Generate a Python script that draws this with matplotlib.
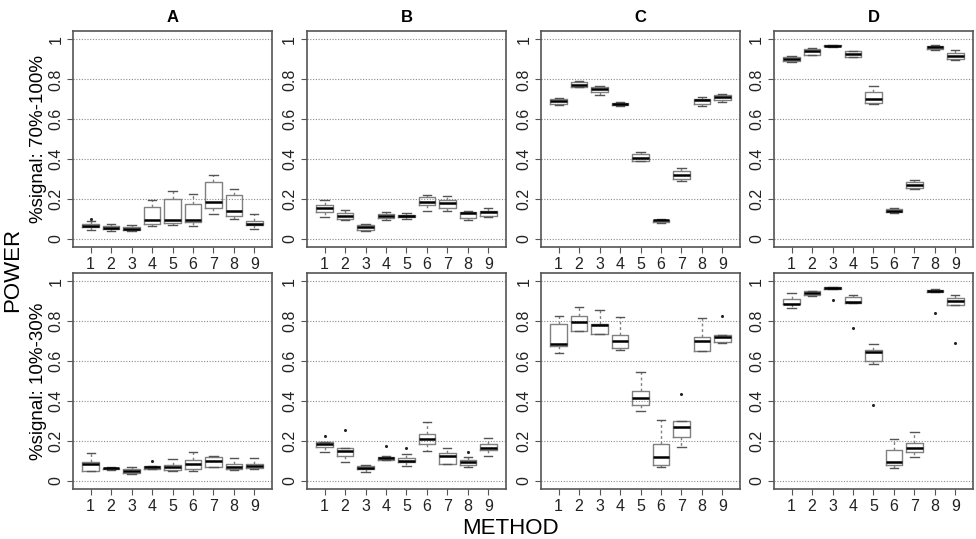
import matplotlib.pyplot as plt
from matplotlib.ticker import FixedLocator

plt.rcParams['font.family'] = ['Liberation Sans', 'DejaVu Sans']

methods = [1, 2, 3, 4, 5, 6, 7, 8, 9]
panel_titles = ['A', 'B', 'C', 'D']
row_labels = ['%signal: 70%-100%', '%signal: 10%-30%']
y_ticks = [0, 0.2, 0.4, 0.6, 0.8, 1]
y_ticklabels = ['0', '0.2', '0.4', '0.6', '0.8', '1']

# each method: (low whisker, Q1, median, Q3, high whisker)
high_A = [(0.045, 0.060, 0.065, 0.075, 0.090), (0.040, 0.050, 0.057, 0.065, 0.075),
          (0.040, 0.045, 0.052, 0.060, 0.070), (0.067, 0.075, 0.095, 0.160, 0.197),
          (0.072, 0.082, 0.097, 0.200, 0.242), (0.063, 0.083, 0.097, 0.175, 0.226),
          (0.125, 0.155, 0.184, 0.286, 0.323), (0.099, 0.114, 0.142, 0.222, 0.250),
          (0.050, 0.069, 0.077, 0.089, 0.125)]
high_B = [(0.109, 0.134, 0.155, 0.172, 0.197), (0.097, 0.099, 0.117, 0.132, 0.145),
          (0.038, 0.045, 0.059, 0.070, 0.075), (0.095, 0.105, 0.115, 0.125, 0.134),
          (0.100, 0.109, 0.117, 0.122, 0.129), (0.142, 0.172, 0.187, 0.209, 0.221),
          (0.139, 0.155, 0.179, 0.197, 0.217), (0.095, 0.105, 0.130, 0.135, 0.139),
          (0.112, 0.117, 0.134, 0.142, 0.155)]
high_C = [(0.672, 0.677, 0.691, 0.699, 0.707), (0.761, 0.764, 0.773, 0.786, 0.793),
          (0.724, 0.739, 0.754, 0.761, 0.766), (0.664, 0.669, 0.677, 0.681, 0.684),
          (0.393, 0.393, 0.406, 0.426, 0.435), (0.080, 0.087, 0.094, 0.097, 0.099),
          (0.293, 0.301, 0.323, 0.343, 0.356), (0.664, 0.677, 0.694, 0.702, 0.711),
          (0.684, 0.694, 0.712, 0.724, 0.727)]
high_D = [(0.888, 0.891, 0.901, 0.911, 0.915), (0.920, 0.923, 0.940, 0.953, 0.958),
          (0.963, 0.965, 0.968, 0.972, 0.973), (0.911, 0.911, 0.926, 0.940, 0.940),
          (0.674, 0.679, 0.701, 0.739, 0.766), (0.132, 0.135, 0.142, 0.151, 0.157),
          (0.251, 0.256, 0.273, 0.286, 0.296), (0.945, 0.950, 0.960, 0.968, 0.973),
          (0.898, 0.900, 0.916, 0.933, 0.945)]
low_A = [(0.048, 0.052, 0.084, 0.097, 0.142), (0.057, 0.059, 0.064, 0.067, 0.072),
         (0.035, 0.040, 0.050, 0.060, 0.072), (0.062, 0.062, 0.069, 0.075, 0.075),
         (0.050, 0.055, 0.072, 0.079, 0.110), (0.052, 0.059, 0.084, 0.105, 0.144),
         (0.069, 0.072, 0.100, 0.122, 0.124), (0.055, 0.060, 0.072, 0.087, 0.114),
         (0.060, 0.064, 0.075, 0.085, 0.114)]
low_B = [(0.147, 0.172, 0.184, 0.194, 0.194), (0.097, 0.127, 0.150, 0.167, 0.167),
         (0.043, 0.059, 0.067, 0.075, 0.080), (0.107, 0.107, 0.115, 0.122, 0.125),
         (0.075, 0.094, 0.100, 0.117, 0.134), (0.152, 0.184, 0.211, 0.234, 0.298),
         (0.085, 0.085, 0.127, 0.139, 0.164), (0.070, 0.080, 0.094, 0.104, 0.119),
         (0.127, 0.154, 0.167, 0.184, 0.214)]
low_C = [(0.639, 0.674, 0.686, 0.786, 0.829), (0.753, 0.753, 0.794, 0.828, 0.870),
         (0.736, 0.736, 0.783, 0.786, 0.855), (0.656, 0.666, 0.699, 0.732, 0.824),
         (0.351, 0.381, 0.415, 0.453, 0.548), (0.069, 0.080, 0.122, 0.187, 0.306),
         (0.171, 0.222, 0.268, 0.303, 0.303), (0.649, 0.652, 0.699, 0.721, 0.816),
         (0.692, 0.696, 0.721, 0.732, 0.732)]
low_D = [(0.866, 0.886, 0.888, 0.911, 0.940), (0.925, 0.930, 0.941, 0.950, 0.953),
         (0.963, 0.963, 0.968, 0.973, 0.973), (0.890, 0.890, 0.895, 0.921, 0.930),
         (0.585, 0.600, 0.645, 0.656, 0.687), (0.067, 0.080, 0.094, 0.154, 0.209),
         (0.119, 0.147, 0.164, 0.189, 0.247), (0.948, 0.948, 0.953, 0.957, 0.962),
         (0.880, 0.883, 0.900, 0.916, 0.930)]

# outlying points: {method: [values]}
high_A_out = {1: [0.10]}
high_B_out = {}
high_C_out = {}
high_D_out = {}
low_A_out = {4: [0.10]}
low_B_out = {1: [0.227], 2: [0.253], 4: [0.176], 5: [0.164], 8: [0.144]}
low_C_out = {7: [0.435], 9: [0.828]}
low_D_out = {3: [0.905], 4: [0.766], 5: [0.38], 8: [0.841], 9: [0.692]}

grid_data = [[(high_A, high_A_out), (high_B, high_B_out), (high_C, high_C_out), (high_D, high_D_out)],
             [(low_A, low_A_out), (low_B, low_B_out), (low_C, low_C_out), (low_D, low_D_out)]]

fig = plt.figure(figsize=(9.76, 5.39), dpi=100)

lefts = [0.0748, 0.3145, 0.5543, 0.7930]
bottoms = [0.5417, 0.0928]
w, h = 0.2039, 0.4000
box_col = '#808080'

for r in range(2):
    for c in range(4):
        ax = fig.add_axes([lefts[c], bottoms[r], w, h])
        stats_list, outs = grid_data[r][c]
        stats = []
        for m, s in zip(methods, stats_list):
            stats.append(dict(whislo=s[0], q1=s[1], med=s[2], q3=s[3], whishi=s[4],
                              fliers=outs.get(m, [])))
        for y in y_ticks:
            ax.axhline(y, color='#8a8a8a', lw=0.8, ls=(0, (1, 1.5)), zorder=0)
        ax.bxp(stats, positions=methods, widths=0.8, capwidths=0.4,
               boxprops=dict(color=box_col, lw=1.0),
               medianprops=dict(color='black', lw=1.8),
               whiskerprops=dict(color=box_col, lw=1.0, ls=(0, (2, 2))),
               capprops=dict(color='#555555', lw=1.0),
               flierprops=dict(marker='o', markersize=1.2, markerfacecolor='#222222',
                               markeredgecolor='#222222'))
        ax.set_xlim(0.14, 9.86)
        ax.set_ylim(-0.04, 1.04)
        ax.xaxis.set_major_locator(FixedLocator(methods))
        ax.set_xticklabels([str(m) for m in methods])
        ax.yaxis.set_major_locator(FixedLocator(y_ticks))
        ax.set_yticklabels(y_ticklabels, rotation=90, va='center')
        ax.tick_params(labelsize=11.5, length=4, color='#555555', labelcolor='#222222', pad=3)
        for sp in ax.spines.values():
            sp.set_color('#555555')
            sp.set_linewidth(1.2)
        if r == 0:
            ax.set_title(panel_titles[c], fontsize=12, fontweight='bold', pad=7)
        if c == 0:
            ax.set_ylabel(row_labels[r], fontsize=13.5, labelpad=1)

fig.text(0.013, 0.5, 'POWER', rotation=90, fontsize=16, ha='center', va='center')
fig.text(0.523, 0.02, 'METHOD', fontsize=16, ha='center', va='center')

fig.savefig('out.png', dpi=100)
